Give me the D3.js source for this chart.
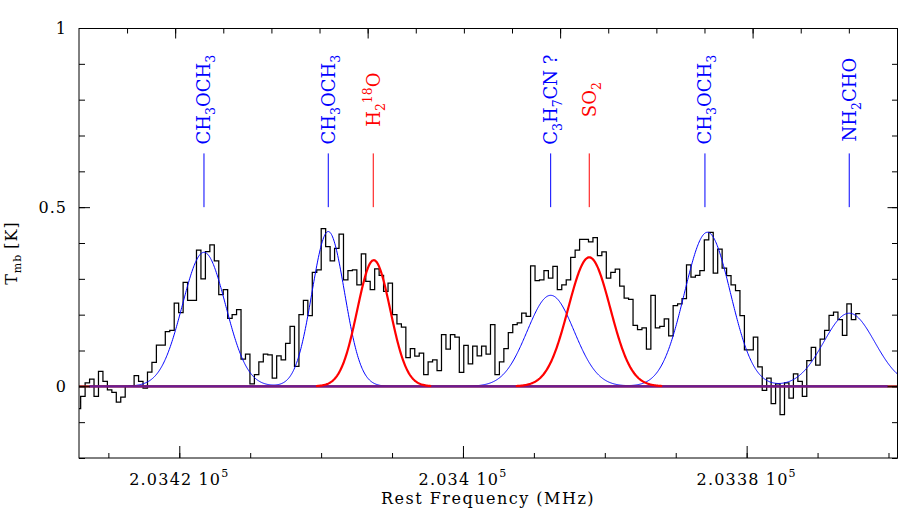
<!DOCTYPE html>
<html><head><meta charset="utf-8">
<script src="https://cdn.jsdelivr.net/npm/d3@7"></script>
<style>
html,body{margin:0;padding:0;background:#fff;}
svg{display:block;}
text{font-family:"DejaVu Serif",serif;}
</style></head><body>
<svg id="chart" width="900" height="510"></svg>
<script>
// ---------------- data ----------------
const freqDomain = [203427.07, 203369.40];   // MHz, axis runs high -> low
const yDomain = [-0.2, 1];
const chanStart = 203427.267;                // MHz, upper edge of first channel
const chanWidth = 0.31406;                   // MHz per channel
const tmb = [
 -0.062,-0.028,0.010,0.020,-0.028,0.042,0.014,-0.010,-0.017,-0.044,
 -0.030,0.000,0.000,0.030,0.014,-0.005,0.040,0.067,0.115,0.115,
 0.153,0.156,0.232,0.206,0.290,0.240,0.240,0.380,0.300,0.376,
 0.395,0.350,0.256,0.270,0.190,0.200,0.214,0.076,0.090,0.007,
 0.033,0.068,0.090,0.088,0.023,0.085,0.074,0.120,0.167,0.056,
 0.200,0.240,0.197,0.318,0.325,0.440,0.390,0.350,0.385,0.425,
 0.297,0.323,0.325,0.283,0.370,0.293,0.270,0.328,0.310,0.265,
 0.288,0.200,0.174,0.165,0.080,0.105,0.084,0.093,0.033,0.068,
 0.074,0.044,0.144,0.104,0.144,0.137,0.039,0.114,0.063,0.112,
 0.085,0.112,0.090,0.172,0.033,0.068,0.105,0.150,0.172,0.177,
 0.204,0.195,0.336,0.295,0.297,0.323,0.302,0.335,0.270,0.283,
 0.297,0.360,0.380,0.410,0.410,0.403,0.415,0.365,0.375,0.302,
 0.318,0.327,0.280,0.246,0.243,0.170,0.158,0.163,0.104,0.254,
 0.163,0.167,0.188,0.141,0.225,0.230,0.245,0.339,0.305,0.310,
 0.323,0.409,0.430,0.316,0.383,0.330,0.309,0.283,0.267,0.197,
 0.102,0.102,0.137,0.054,-0.011,0.023,-0.048,0.007,-0.079,0.010,
 -0.033,0.035,0.014,-0.028,0.072,0.109,0.059,0.132,0.156,0.198,
 0.207,0.186,0.142,0.230,0.186,0.203
];
const xMajorTicks = [203420, 203400, 203380];
const xMinorTicks = [203425,203420,203415,203410,203405,203400,203395,203390,203385,203380,203375,203370];
const xTickMantissa = ["2.0342", "2.034", "2.0338"];
const xTickExponent = "5";
const yMajorTicks = [0, 0.5, 1];
const yTickLabels = ["0", "0.5", "1"];
const yMinorTicks = [-0.2,-0.1,0,0.1,0.2,0.3,0.4,0.5,0.6,0.7,0.8,0.9,1];
const velRef = 203406.72;                    // MHz, zero of the top velocity axis
const velMinorTicks = [-25,-20,-15,-10,-5,0,5,10,15,20,25,30,35,40,45,50];
const velMajorTicks = [-20, 0, 20, 40];
const xTitle = "Rest Frequency (MHz)";
// identified lines
const speciesNames = ["CH_3OCH_3","CH_3OCH_3","H_2^{18}O","C_3H_7CN ?","SO_2","CH_3OCH_3","NH_2CHO"];
const speciesFreqs = [203418.259, 203409.496, 203406.324, 203393.817, 203391.096, 203382.94, 203372.767];
const speciesFitGroup = [1, 1, 2, 1, 2, 1, 1];
// gaussian fit components (peak K, centre MHz, sigma MHz)
const fit1Centers = [203418.259, 203409.496, 203393.817, 203382.763, 203372.767];
const fit1Amps    = [0.374, 0.432, 0.254, 0.430, 0.204];
const fit1Sigmas  = [1.523, 1.149, 1.657, 1.621, 1.798];
const fit2Centers = [203406.288, 203391.096];
const fit2Amps    = [0.352, 0.360];
const fit2Sigmas  = [1.163, 1.480];

// ---------------- drawing ----------------
const L=79, R=897, T=28, B=458;
const svg = d3.select("#chart");
const x = d3.scaleLinear().domain(freqDomain).range([L, R]);
const y = d3.scaleLinear().domain(yDomain).range([B, T]);
const cKms = 299792.458;
const vel = f => cKms * (velRef - f) / velRef;
const xv = d3.scaleLinear().domain([vel(freqDomain[0]), vel(freqDomain[1])]).range([L, R]);

svg.append("defs").append("clipPath").attr("id","clip")
  .append("rect").attr("x",L).attr("y",T).attr("width",R-L).attr("height",B-T);

const plot = svg.append("g").attr("clip-path","url(#clip)");

// histogram
const histPts = tmb.map((v,i)=>[chanStart - i*chanWidth, v]);
histPts.push([chanStart - tmb.length*chanWidth, tmb[tmb.length-1]]);
plot.append("path").datum(histPts)
  .attr("fill","none").attr("stroke","#000").attr("stroke-width",1.25)
  .attr("d", d3.line().x(d=>x(d[0])).y(d=>y(d[1])).curve(d3.curveStepAfter));

function gsum(f, cs, as, ss){
  let s=0; for(let i=0;i<cs.length;i++){ const d=(f-cs[i])/ss[i]; s+=as[i]*Math.exp(-0.5*d*d);} return s;
}
const lineGen = d3.line().x(d=>x(d[0])).y(d=>y(d[1]));
// blue fit: sum of components from first component's wing to the right edge
{
  const fStart = fit1Centers[0] + 3.5*fit1Sigmas[0];
  const pts=[];
  for(let f=fStart; f>=freqDomain[1]-0.05; f-=0.04) pts.push([f, gsum(f, fit1Centers, fit1Amps, fit1Sigmas)]);
  plot.append("path").datum(pts).attr("fill","none").attr("stroke","#0000ff").attr("stroke-width",1).attr("d",lineGen);
}
// baselines (drawn over the fit wings)
plot.append("line").attr("x1",L).attr("x2",R).attr("y1",y(0)).attr("y2",y(0))
  .attr("stroke","#9a0c0c").attr("stroke-width",2.2);
plot.append("line").attr("x1",x(203426.35)).attr("x2",x(203370.05)).attr("y1",y(0)).attr("y2",y(0))
  .attr("stroke","#6a1a94").attr("stroke-width",2.2);
// red fit components
fit2Centers.forEach((c,i)=>{
  const pts=[];
  for(let f=c+3.5*fit2Sigmas[i]; f>=c-3.5*fit2Sigmas[i]; f-=0.04) pts.push([f, gsum(f, fit2Centers, fit2Amps, fit2Sigmas)]);
  plot.append("path").datum(pts).attr("fill","none").attr("stroke","#ff0000").attr("stroke-width",2.2).attr("d",lineGen);
});

// frame
const frame = svg.append("g").attr("stroke","#000").attr("stroke-width",1);
frame.append("line").attr("x1",L).attr("x2",L).attr("y1",T).attr("y2",B+0.5);
frame.append("line").attr("x1",R+0.5).attr("x2",R+0.5).attr("y1",T).attr("y2",B+0.5);
frame.append("line").attr("x1",L).attr("x2",R+1).attr("y1",T+0.5).attr("y2",T+0.5);
frame.append("line").attr("x1",L).attr("x2",R+1).attr("y1",B).attr("y2",B);

function axisG(tr, ax){
  const g = svg.append("g").attr("transform", tr).call(ax);
  g.select(".domain").remove();
  g.selectAll("line").attr("stroke","#000");
  return g;
}
// bottom
axisG(`translate(0,${B})`, d3.axisBottom(x).tickValues(xMinorTicks).tickSize(-5).tickFormat(""));
axisG(`translate(0,${B})`, d3.axisBottom(x).tickValues(xMajorTicks).tickSize(-12).tickFormat(""));
// top (velocity)
axisG(`translate(0,${T})`, d3.axisTop(xv).tickValues(velMinorTicks).tickSize(-5.5).tickFormat(""));
axisG(`translate(0,${T})`, d3.axisTop(xv).tickValues(velMajorTicks).tickSize(-10.5).tickFormat(""));
// left
axisG(`translate(${L},0)`, d3.axisLeft(y).tickValues(yMinorTicks).tickSize(-6).tickFormat(""));
const gl = axisG(`translate(${L},0)`, d3.axisLeft(y).tickValues(yMajorTicks).tickSize(-11).tickPadding(12)
  .tickFormat((d,i)=>yTickLabels[i]));
gl.selectAll("text").attr("font-family","DejaVu Serif").attr("font-size",16).attr("fill","#000")
  .style("letter-spacing","1px");
// right
axisG(`translate(${R},0)`, d3.axisRight(y).tickValues(yMinorTicks).tickSize(-5).tickFormat(""));
axisG(`translate(${R},0)`, d3.axisRight(y).tickValues(yMajorTicks).tickSize(-9.5).tickFormat(""));

// bottom tick labels
xMajorTicks.forEach((v,i)=>{
  const t = svg.append("text").attr("x", x(v)).attr("y", 485).attr("text-anchor","middle")
    .attr("font-size",16).style("letter-spacing","1.2px").attr("fill","#000");
  t.append("tspan").text(xTickMantissa[i]);
  t.append("tspan").attr("dx",6).text("10");
  t.append("tspan").attr("dy",-8).attr("font-size",11).text(xTickExponent);
});
// x title
svg.append("text").attr("x",(L+R)/2).attr("y",504).attr("text-anchor","middle")
  .attr("font-size",16).style("letter-spacing","1.5px").attr("fill","#000").text(xTitle);
// y title
{
  const t = svg.append("text").attr("transform","translate(17,253) rotate(-90)")
    .attr("text-anchor","middle").attr("font-size",16).style("letter-spacing","1px").attr("fill","#000");
  t.append("tspan").text("T");
  t.append("tspan").attr("dy",4).attr("font-size",11).text("mb");
  t.append("tspan").attr("dy",-4).attr("dx",5).text("[K]");
}

// species markers and labels
function parseLabel(s){
  const out=[]; let i=0, buf="";
  const flush=()=>{ if(buf){out.push({t:buf,k:"n"}); buf="";} };
  while(i<s.length){
    const c=s[i];
    if(c==="_"||c==="^"){
      flush();
      let txt;
      if(s[i+1]==="{"){ const j=s.indexOf("}",i); txt=s.slice(i+2,j); i=j+1; }
      else { txt=s[i+1]; i+=2; }
      out.push({t:txt,k:c==="_"?"sub":"sup"});
    } else { buf+=c; i++; }
  }
  flush(); return out;
}
const groupColor = {1:"#0000ff", 2:"#ff0000"};
speciesNames.forEach((name,i)=>{
  const cx = x(speciesFreqs[i]);
  const col = groupColor[speciesFitGroup[i]];
  svg.append("line").attr("x1",cx).attr("x2",cx).attr("y1",y(0.5)).attr("y2",y(0.65))
    .attr("stroke",col).attr("stroke-width",1);
  const t = svg.append("text").attr("transform",`translate(${cx+6.5},${y(0.80)}) rotate(-90)`)
    .attr("text-anchor","middle").attr("font-size",18).attr("fill",col).style("white-space","pre");
  let cur=0;
  parseLabel(name).forEach(seg=>{
    const target = seg.k==="sub"?5:(seg.k==="sup"?-8:0);
    const ts = t.append("tspan").attr("dy", target-cur).text(seg.t);
    if(seg.k!=="n") ts.attr("font-size",12.5);
    cur=target;
  });
});
</script>
</body></html>
